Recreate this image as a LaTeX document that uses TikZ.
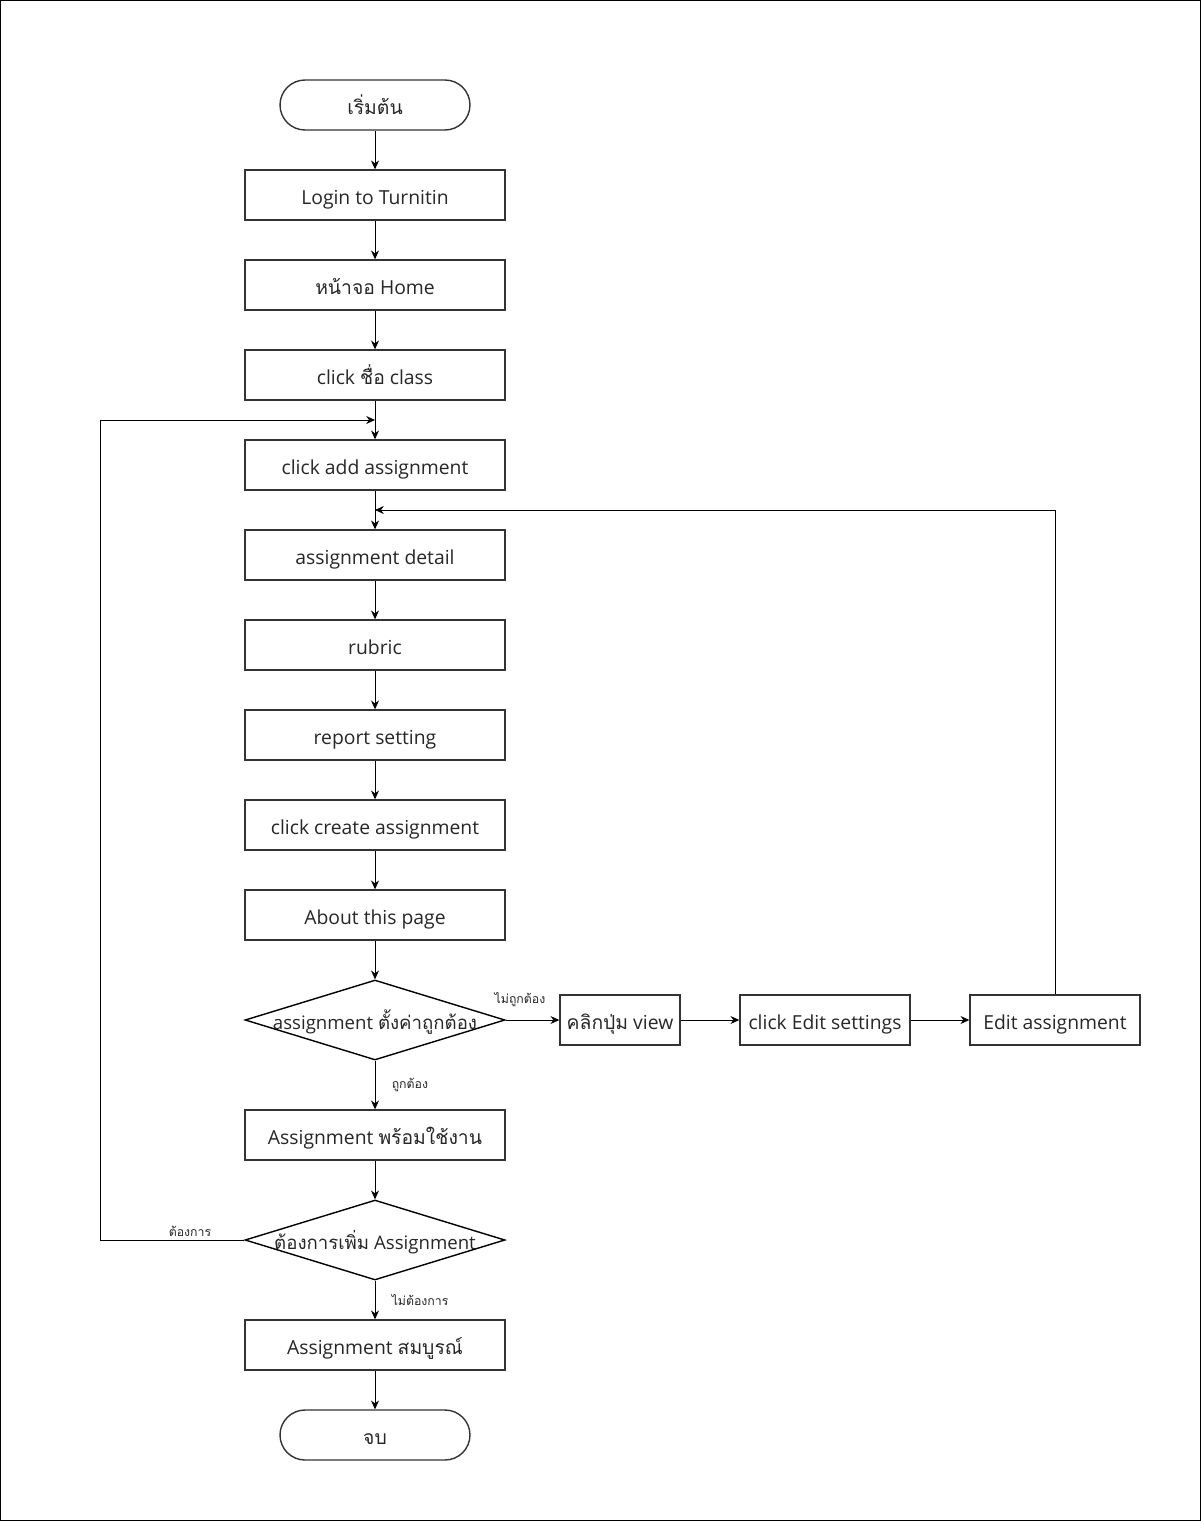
\documentclass[tikz,border=0pt]{standalone}
\usepackage{fontspec}
\setmainfont{Open Sans}
\newfontfamily\thaifont[Script=Thai]{Loma}
\newcommand{\thaitxt}[1]{{\thaifont #1}}
\usetikzlibrary{arrows.meta}
\usetikzlibrary{shapes.geometric}

\begin{document}
\begin{tikzpicture}[x=0.02cm,y=-0.02cm,>={Stealth[length=5pt,width=4.5pt]},
    every node/.style={text=black!85},
    stepbox/.style={draw=black!80,line width=0.8pt,minimum width=5.2cm,minimum height=1cm,inner sep=0pt,
      font=\fontsize{11}{13}\selectfont,text height=2ex,text depth=0pt},
    smallbox/.style={stepbox,minimum width=3.4cm},
    terminal/.style={stepbox,minimum width=3.8cm,rounded corners=0.5cm},
    decision/.style={diamond,draw=black,line width=0.8pt,minimum width=5.2cm,minimum height=1.6cm,inner sep=0pt,
      font=\fontsize{10.6}{13}\selectfont,text height=2ex,text depth=0pt},
    note/.style={font=\fontsize{7}{8}\selectfont}]
    \useasboundingbox (0,0) rectangle (1201,1521);
    \draw[line width=0.6pt] (0.5,0.5) rectangle (1200.5,1520.5);

    \node[terminal] (start) at (375,105) {\thaitxt{เริ่มต้น}};
    \node[stepbox] (login) at (375,195) {Login to Turnitin};
    \node[stepbox] (home) at (375,285) {\thaitxt{หน้าจอ} Home};
    \node[stepbox] (cls) at (375,375) {click \thaitxt{ชื่อ} class};
    \node[stepbox] (add) at (375,465) {click add assignment};
    \node[stepbox] (detail) at (375,555) {assignment detail};
    \node[stepbox] (rubric) at (375,645) {rubric};
    \node[stepbox] (report) at (375,735) {report setting};
    \node[stepbox] (create) at (375,825) {click create assignment};
    \node[stepbox] (about) at (375,915) {About this page};
    \node[decision] (check) at (375,1020) {\makebox[0pt]{assignment \thaitxt{ตั้งค่าถูกต้อง}}};
    \node[stepbox] (ready) at (375,1135) {Assignment \thaitxt{พร้อมใช้งาน}};
    \node[decision] (more) at (375,1240) {\makebox[0pt]{\thaitxt{ต้องการเพิ่ม} Assignment}};
    \node[stepbox] (done) at (375,1345) {Assignment \thaitxt{สมบูรณ์}};
    \node[terminal] (stop) at (375,1435) {\thaitxt{จบ}};

    \node[stepbox,minimum width=2.4cm] (view) at (620,1020) {\thaitxt{คลิกปุ่ม} view};
    \node[smallbox] (editset) at (825,1020) {click Edit settings};
    \node[smallbox] (editasg) at (1055,1020) {Edit assignment};

    \coordinate (loopin) at (375,420);
    \coordinate (loopleft) at (100,1240);
    \coordinate (fixin) at (375,510);

    \draw[->] (start) to (login);
    \draw[->] (login) to (home);
    \draw[->] (home) to (cls);
    \draw[->] (cls) to (add);
    \draw[->] (add) to (detail);
    \draw[->] (detail) to (rubric);
    \draw[->] (rubric) to (report);
    \draw[->] (report) to (create);
    \draw[->] (create) to (about);
    \draw[->] (about) to (check);
    \draw[->] (check) to node[note,right,xshift=6pt]{\thaitxt{ถูกต้อง}} (ready);
    \draw[->] (ready) to (more);
    \draw[->] (more) to node[note,right,xshift=6pt]{\thaitxt{ไม่ต้องการ}} (done);
    \draw[->] (done) to (stop);

    \draw[->] (check.east) to (view.west);
    \node[note] (nolbl) at (520,1000) {\thaitxt{ไม่ถูกต้อง}};
    \draw[->] (view) to (editset);
    \draw[->] (editset) to (editasg);
    \draw[->] (editasg.north) |- (fixin);

    \draw[->] (more.west) -- (loopleft) |- (loopin);
    \node[note] (yeslbl) at (190,1231) {\thaitxt{ต้องการ}};
\end{tikzpicture}
\end{document}
